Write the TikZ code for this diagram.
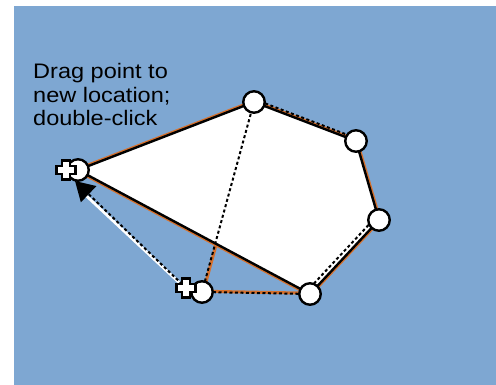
\documentclass[tikz,border=0pt]{standalone}
\usepackage{fontspec}
\setmainfont{Liberation Sans}
\usetikzlibrary{arrows.meta}
\definecolor{bgblue}{RGB}{126,167,210}
\definecolor{shade}{RGB}{214,112,44}
\tikzset{
  vtx/.style={circle,draw=black,fill=white,line width=2.4pt,minimum size=21.5pt,inner sep=0pt},
  edge/.style={draw=black,line width=2.4pt,line join=round},
  shadow/.style={draw=shade,line width=5pt,line join=round},
  dotline/.style={draw=black,line width=2pt,dash pattern=on 3pt off 2.5pt},
  lbl/.style={anchor=base west,inner sep=0pt,font=\fontsize{21}{23.5}\selectfont},
  pluss/.style={fill=white,draw=black,line width=2.2pt,line join=miter}
}
\newcommand{\plusshape}[1]{%
  \path[pluss,shift={#1}] (-4,-9.5) -- (4,-9.5) -- (4,-4) -- (9.5,-4) -- (9.5,4) -- (4,4) -- (4,9.5) -- (-4,9.5) -- (-4,4) -- (-9.5,4) -- (-9.5,-4) -- (-4,-4) -- cycle;}
\begin{document}
\begin{tikzpicture}[x=1pt,y=-1pt]
\useasboundingbox (0,0) rectangle (496,385);
\fill[bgblue] (14,6) rectangle (496,385);
\coordinate (A) at (78,170);
\coordinate (B) at (254,102);
\coordinate (C) at (356,141);
\coordinate (D) at (379,220);
\coordinate (E) at (310,294);
\coordinate (F) at (202,292);
\coordinate (PA) at (66,170);
\coordinate (PF) at (186,288);
\coordinate (tip) at (75,181);
% orange shadows
\draw[shadow] (A) -- (B) -- (C) -- (D) -- (E) -- cycle;
\draw[draw=shade,line width=3pt] ([yshift=0.8pt]F) -- ([yshift=0.8pt]E);
\draw[draw=shade,line width=3pt] ([xshift=1.2pt]F) -- ([xshift=1.2pt]B);
% polygon
\fill[white] (A) -- (B) -- (C) -- (D) -- (E) -- cycle;
\draw[edge] (A) -- (B) -- (C) -- (D) -- (E) -- cycle;
% old outline (dotted)
\draw[dotline] (F) -- (B);
\draw[dotline] (F) -- (E);
\draw[dotline] ([shift={(1,-2.5)}]B) -- ([shift={(1,-2.5)}]C);
\draw[dotline] ([shift={(-3,-3)}]D) -- ([shift={(-3,-3)}]E);
% drag arrow
\draw[white,line width=2.8pt] ([shift={(-0.5,0.5)}]PF) -- ([shift={(4,8)}]tip);
\draw[dotline,-{Triangle[length=19pt,width=22pt]}] (PF) -- (tip);
% vertices
\node[vtx] (a) at (A) {};
\node[vtx] (b) at (B) {};
\node[vtx] (c) at (C) {};
\node[vtx] (d) at (D) {};
\node[vtx] (e) at (E) {};
\node[vtx] (f) at (F) {};
\plusshape{(PA)}
\plusshape{(PF)}
% label
\node[lbl] (t1) at (33,79) {\scalebox{1.12}[1]{Drag point to}};
\node[lbl] (t2) at (33,102.5) {\scalebox{1.12}[1]{new location;}};
\node[lbl] (t3) at (33,126) {\scalebox{1.12}[1]{double-click}};
\end{tikzpicture}
\end{document}
